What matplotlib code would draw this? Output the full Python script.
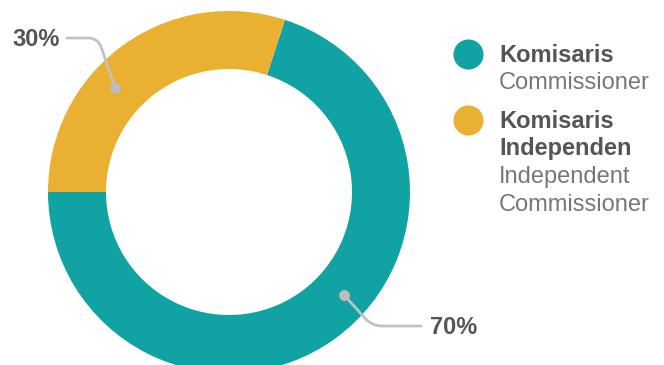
import matplotlib
matplotlib.use("Agg")
import matplotlib.pyplot as plt
from matplotlib.path import Path
from matplotlib.patches import PathPatch
import numpy as np

# Board composition
categories = ["Komisaris", "Komisaris Independen"]
sublabels = ["Commissioner", "Independent\nCommissioner"]
shares = [70, 30]
share_labels = ["70%", "30%"]
colors = ["#11A3A4", "#E9B031"]

plt.rcParams["font.family"] = ["Liberation Sans", "DejaVu Sans"]

W, H = 664, 365
fig = plt.figure(figsize=(W / 100, H / 100), dpi=100)
ax = fig.add_axes([0, 0, 1, 1])

cx, cy = 229, H - 192
R, ring = 181, 58

ax.pie(shares, colors=colors, startangle=72, counterclock=False,
       center=(cx, cy), radius=R,
       wedgeprops=dict(width=ring, linewidth=0))

ax.set_xlim(0, W)
ax.set_ylim(0, H)
ax.set_aspect("equal")
ax.axis("off")

line_col = "#C2C2C2"
txt_dark = "#555555"
txt_light = "#777777"


def elbow_path(p0, p1, p2, rad=10):
    """Polyline p0 -> p1 -> p2 with a rounded corner at p1."""
    p0, p1, p2 = map(np.asarray, (p0, p1, p2))
    d1 = (p0 - p1) / np.linalg.norm(p0 - p1)
    d2 = (p2 - p1) / np.linalg.norm(p2 - p1)
    a = p1 + d1 * rad
    b = p1 + d2 * rad
    verts = [p0, a, p1, b, p2]
    codes = [Path.MOVETO, Path.LINETO, Path.CURVE3, Path.CURVE3, Path.LINETO]
    return Path(verts, codes)


# callout for each share: anchor angle on the ring, elbow, end, text side
r_anchor = 154
callouts = {
    "70%": dict(ang=-41.8, elbow=(372, H - 326), end=(421, H - 326), ha="left"),
    "30%": dict(ang=137.6, elbow=(98, H - 38), end=(67, H - 38), ha="right"),
}
for lab in share_labels:
    c = callouts[lab]
    a = np.deg2rad(c["ang"])
    px, py = cx + r_anchor * np.cos(a), cy + r_anchor * np.sin(a)
    path = elbow_path((px, py), c["elbow"], c["end"])
    ax.add_patch(PathPatch(path, facecolor="none", edgecolor=line_col, lw=2,
                           capstyle="round", zorder=3))
    ax.scatter([px], [py], s=60, color="#BDBDBD", zorder=4, linewidths=0)
    fx, fy = c["end"]
    tx = fx + 9 if c["ha"] == "left" else fx - 7
    ax.text(tx, fy - 2, lab, ha=c["ha"], va="center", fontsize=17,
            fontweight="bold", color=txt_dark)

# legend
lx, tx0 = 468, 499
step = 28
rows = [(55, 0), (121, 1)]
for y0, i in rows:
    ax.scatter([lx], [H - y0 + 1], s=470, color=colors[i], linewidths=0)
    y = y0
    for part in categories[i].split(" ") if i == 1 else [categories[i]]:
        ax.text(tx0, H - y, part, ha="left", va="center", fontsize=17,
                fontweight="bold", color=txt_dark)
        y += step
    for part in sublabels[i].split("\n"):
        ax.text(tx0, H - y, part, ha="left", va="center", fontsize=17,
                color=txt_light)
        y += step

fig.savefig("out.png", dpi=100)
